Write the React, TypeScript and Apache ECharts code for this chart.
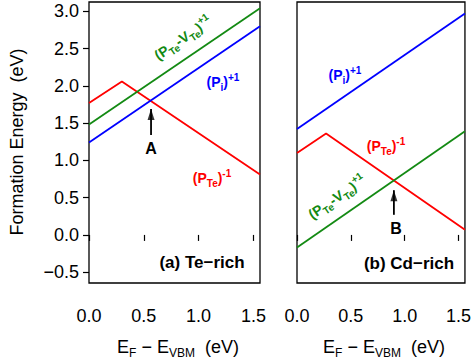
import React, { useEffect, useRef } from 'react';
import * as echarts from 'echarts';

const FONT = '"Liberation Sans", Arial, Helvetica, sans-serif';

const xTicks = [0, 0.5, 1.0, 1.5];
const yTicks = [-0.5, 0, 0.5, 1.0, 1.5, 2.0, 2.5, 3.0];

// (a) Te-rich
const teRichPTeVTe = [[0, 1.48], [1.56, 3.04]];
const teRichPi = [[0, 1.24], [1.56, 2.8]];
const teRichPTe = [[0, 1.77], [0.3, 2.06], [1.56, 0.81]];
const arrowA = [[0.566, 1.34], [0.566, 1.69]];

// (b) Cd-rich
const cdRichPi = [[0, 1.42], [1.56, 2.97]];
const cdRichPTe = [[0, 1.1], [0.27, 1.36], [1.56, 0.07]];
const cdRichPTeVTe = [[0, -0.17], [1.56, 1.39]];
const arrowB = [[0.9, 0.27], [0.9, 0.6]];

const RED = '#ff0000';
const GREEN = '#138a13';
const BLUE = '#0000ff';

const fmt = (v: number) => v.toFixed(1).replace('-', '\u2212');

function richFor(color: string) {
  return {
    m: { fontSize: 14, fontWeight: 'bold', fill: color, fontFamily: FONT, lineHeight: 20, verticalAlign: 'middle' },
    s: { fontSize: 10, fontWeight: 'bold', fill: color, fontFamily: FONT, lineHeight: 20, verticalAlign: 'bottom' },
    u: { fontSize: 10, fontWeight: 'bold', fill: color, fontFamily: FONT, lineHeight: 20, verticalAlign: 'top' },
  };
}

function label(x: number, y: number, text: string, color: string, rotation = 0) {
  return {
    type: 'text',
    x,
    y,
    rotation,
    style: {
      text,
      rich: richFor(color),
      fill: color,
      align: 'center',
      verticalAlign: 'middle',
      fontFamily: FONT,
    },
  };
}

function plain(x: number, y: number, text: string, size: number, bold: boolean) {
  return {
    type: 'text',
    x,
    y,
    style: {
      text,
      fill: '#000',
      fontSize: size,
      fontWeight: bold ? 'bold' : 'normal',
      fontFamily: FONT,
      align: 'center',
      verticalAlign: 'middle',
    },
  };
}

function xName(x: number, y: number) {
  return {
    type: 'text',
    x,
    y,
    style: {
      text: '{m|E}{s|F}{m| \u2212 E}{s|VBM}{m|  (eV)}',
      rich: {
        m: { fontSize: 18, fill: '#000', fontFamily: FONT, lineHeight: 24, verticalAlign: 'middle' },
        s: { fontSize: 12, fill: '#000', fontFamily: FONT, lineHeight: 24, verticalAlign: 'bottom' },
      },
      align: 'center',
      verticalAlign: 'middle',
    },
  };
}

function xAxis(gridIndex: number) {
  return {
    type: 'value',
    gridIndex,
    min: 0,
    max: 1.56,
    axisLine: { show: false },
    axisTick: { show: true, length: 6, customValues: xTicks, lineStyle: { color: '#000', width: 1.2 } },
    axisLabel: { customValues: xTicks, margin: 24, fontSize: 18, color: '#000', fontFamily: FONT, formatter: fmt },
    splitLine: { show: false },
  };
}

function yAxis(gridIndex: number, showLabels: boolean) {
  return {
    type: 'value',
    gridIndex,
    min: -0.645,
    max: 3.125,
    axisLine: { show: false },
    axisTick: { show: showLabels, length: 6, customValues: yTicks, lineStyle: { color: '#000', width: 1.2 } },
    axisLabel: { show: showLabels, customValues: yTicks, margin: 10, fontSize: 18, color: '#000', fontFamily: FONT, formatter: fmt },
    splitLine: { show: false },
  };
}

function line(idx: number, data: number[][], color: string) {
  return {
    type: 'line',
    xAxisIndex: idx,
    yAxisIndex: idx,
    data,
    symbol: 'none',
    silent: true,
    lineStyle: { color, width: 1.8 },
  };
}

function arrowShaft(idx: number, data: number[][]) {
  return {
    type: 'line',
    xAxisIndex: idx,
    yAxisIndex: idx,
    data,
    symbol: 'none',
    silent: true,
    lineStyle: { color: '#000', width: 1.8 },
  };
}

function arrowHead(idx: number, data: number[][]) {
  return {
    type: 'scatter',
    xAxisIndex: idx,
    yAxisIndex: idx,
    data: [data[1]],
    symbol: 'triangle',
    symbolSize: [7, 11],
    symbolOffset: [0, 5.5],
    silent: true,
    itemStyle: { color: '#000' },
  };
}

export default function App() {
  const ref = useRef<HTMLDivElement>(null);
  useEffect(() => {
    if (!ref.current) return;
    const chart = echarts.init(ref.current, null, { renderer: 'svg' });
    chart.setOption({
      animation: false,
      backgroundColor: '#fff',
      grid: [
        { left: 89, top: 2, width: 171, height: 281, show: true, borderColor: '#000', borderWidth: 1.3, backgroundColor: 'transparent' },
        { left: 297, top: 2, width: 170, height: 281, show: true, borderColor: '#000', borderWidth: 1.3, backgroundColor: 'transparent' },
      ],
      xAxis: [xAxis(0), xAxis(1)],
      yAxis: [yAxis(0, true), yAxis(1, false)],
      series: [
        line(0, teRichPTe, RED),
        line(0, teRichPTeVTe, GREEN),
        line(0, teRichPi, BLUE),
        arrowShaft(0, arrowA),
        arrowHead(0, arrowA),
        line(1, cdRichPi, BLUE),
        line(1, cdRichPTe, RED),
        line(1, cdRichPTeVTe, GREEN),
        arrowShaft(1, arrowB),
        arrowHead(1, arrowB),
      ],
      graphic: [
        {
          type: 'text',
          x: 17,
          y: 142,
          rotation: Math.PI / 2,
          style: {
            text: 'Formation Energy  (eV)',
            fill: '#000',
            fontSize: 18,
            fontFamily: FONT,
            align: 'center',
            verticalAlign: 'middle',
          },
        },
        xName(178, 347),
        xName(384, 347),
        label(183, 38, '{m|(P}{s|Te}{m|-V}{s|Te}{m|)}{u|+1}', GREEN, 0.597),
        label(223, 82, '{m|(P}{s|i}{m|)}{u|+1}', BLUE),
        label(212, 178, '{m|(P}{s|Te}{m|)}{u|-1}', RED),
        plain(151, 148, 'A', 16, true),
        plain(202, 262, '(a) Te\u2212rich', 17, true),
        label(345, 75, '{m|(P}{s|i}{m|)}{u|+1}', BLUE),
        label(386, 146, '{m|(P}{s|Te}{m|)}{u|-1}', RED),
        label(337, 197, '{m|(P}{s|Te}{m|-V}{s|Te}{m|)}{u|+1}', GREEN, 0.597),
        plain(396, 228, 'B', 16, true),
        plain(409, 263, '(b) Cd\u2212rich', 17, true),
      ],
    });
    return () => chart.dispose();
  }, []);
  return <div ref={ref} style={{ position: 'fixed', left: 0, top: 0, width: 474, height: 363 }} />;
}
